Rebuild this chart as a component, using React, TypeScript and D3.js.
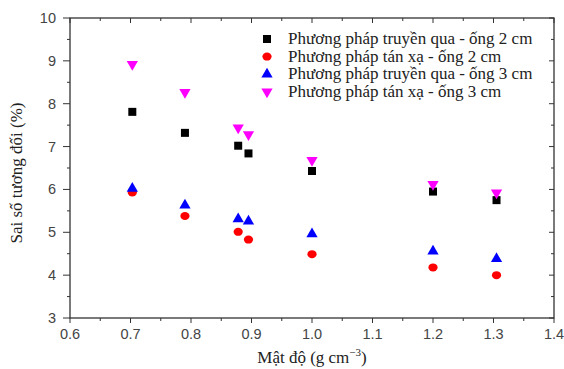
import * as d3 from 'd3';

const densities = [0.703, 0.79, 0.878, 0.895, 1.0, 1.2, 1.305];
const truyenQua2 = [7.81, 7.32, 7.02, 6.84, 6.43, 5.95, 5.75];
const tanXa2 = [5.93, 5.38, 5.01, 4.83, 4.49, 4.18, 4.0];
const truyenQua3 = [6.02, 5.63, 5.31, 5.26, 4.96, 4.56, 4.38];
const tanXa3 = [8.92, 8.27, 7.44, 7.28, 6.68, 6.12, 5.92];

const xTicks = [0.6, 0.7, 0.8, 0.9, 1.0, 1.1, 1.2, 1.3, 1.4];
const yTicks = [3, 4, 5, 6, 7, 8, 9, 10];

const seriesList = [
  { name: 'Phương pháp truyền qua - ống 2 cm', values: truyenQua2, color: '#000000', symbol: 'square' },
  { name: 'Phương pháp tán xạ - ống 2 cm', values: tanXa2, color: '#ff0000', symbol: 'circle' },
  { name: 'Phương pháp truyền qua - ống 3 cm', values: truyenQua3, color: '#0000ff', symbol: 'triangle' },
  { name: 'Phương pháp tán xạ - ống 3 cm', values: tanXa3, color: '#ff00ff', symbol: 'triangleDown' },
];

const W = 564;
const H = 369;
const margin = { top: 18, right: 10, bottom: 51, left: 70 };
const serif = '"Liberation Serif", "Times New Roman", serif';
const sans = '"Liberation Sans", Arial, sans-serif';

function marker(kind: string, cx: number, cy: number, color: string, key: string) {
  if (kind === 'square') {
    return <rect key={key} x={cx - 4} y={cy - 4} width={8} height={8} fill={color} />;
  }
  if (kind === 'circle') {
    return <ellipse key={key} cx={cx} cy={cy} rx={4.6} ry={4} fill={color} />;
  }
  const tri = d3.symbol().type(d3.symbolTriangle).size(55)()!;
  const rot = kind === 'triangleDown' ? 180 : 0;
  return <path key={key} d={tri} transform={`translate(${cx},${cy}) rotate(${rot})`} fill={color} />;
}

export default function App() {
  const innerW = W - margin.left - margin.right;
  const innerH = H - margin.top - margin.bottom;
  const x = d3.scaleLinear().domain([0.6, 1.4]).range([margin.left, margin.left + innerW]);
  const y = d3.scaleLinear().domain([3, 10]).range([margin.top + innerH, margin.top]);
  const x0 = margin.left;
  const x1 = margin.left + innerW;
  const y0 = margin.top + innerH;
  const y1 = margin.top;

  const xMinor = d3.range(0.65, 1.4, 0.1);
  const yMinor = d3.range(3.5, 10, 1);

  return (
    <svg width={W} height={H} style={{ position: 'absolute', left: 0, top: 0, background: '#fff' }}>
      {/* frame */}
      <rect x={x0} y={y1} width={innerW} height={innerH} fill="none" stroke="#333" strokeWidth={1.3} />

      {/* x ticks: outward on bottom, inward on top */}
      {xTicks.map((t) => (
        <g key={`xt${t}`}>
          <line x1={x(t)} x2={x(t)} y1={y0} y2={y0 + 5} stroke="#333" />
          <line x1={x(t)} x2={x(t)} y1={y1} y2={y1 + 5} stroke="#333" />
          <text x={x(t)} y={y0 + 21} textAnchor="middle" fontFamily={sans} fontSize={14.5} fill="#444">
            {t.toFixed(1)}
          </text>
        </g>
      ))}
      {xMinor.map((t) => (
        <g key={`xm${t}`}>
          <line x1={x(t)} x2={x(t)} y1={y0} y2={y0 + 3} stroke="#333" />
          <line x1={x(t)} x2={x(t)} y1={y1} y2={y1 + 3} stroke="#333" />
        </g>
      ))}

      {/* y ticks: outward on left, inward on right */}
      {yTicks.map((t) => (
        <g key={`yt${t}`}>
          <line x1={x0 - 7} x2={x0} y1={y(t)} y2={y(t)} stroke="#333" />
          <line x1={x1 - 5} x2={x1} y1={y(t)} y2={y(t)} stroke="#333" />
          <text x={x0 - 14} y={y(t) + 5} textAnchor="end" fontFamily={sans} fontSize={14.5} fill="#444">
            {t}
          </text>
        </g>
      ))}
      {yMinor.map((t) => (
        <g key={`ym${t}`}>
          <line x1={x0 - 3} x2={x0} y1={y(t)} y2={y(t)} stroke="#333" />
          <line x1={x1 - 3} x2={x1} y1={y(t)} y2={y(t)} stroke="#333" />
        </g>
      ))}

      {/* axis titles */}
      <text
        transform={`translate(22,${(y0 + y1) / 2 + 5}) rotate(-90)`}
        textAnchor="middle"
        fontFamily={serif}
        fontSize={17}
        fill="#222"
      >
        Sai số tương đối (%)
      </text>
      <text x={(x0 + x1) / 2} y={363} textAnchor="middle" fontFamily={serif} fontSize={17} fill="#222">
        Mật độ (g cm
        <tspan dy={-7} fontSize={11}>−3</tspan>
        <tspan dy={7}>)</tspan>
      </text>

      {/* points */}
      {seriesList.map((s, si) =>
        densities.map((d, i) => marker(s.symbol, x(d), y(s.values[i]), s.color, `p${si}-${i}`))
      )}

      {/* legend */}
      {seriesList.map((s, si) => {
        const ly = 39 + si * 17.6;
        return (
          <g key={`lg${si}`}>
            {marker(s.symbol, 267, ly, s.color, `lm${si}`)}
            <text x={288} y={ly + 5} fontFamily={serif} fontSize={17} fill="#222">
              {s.name}
            </text>
          </g>
        );
      })}
    </svg>
  );
}
